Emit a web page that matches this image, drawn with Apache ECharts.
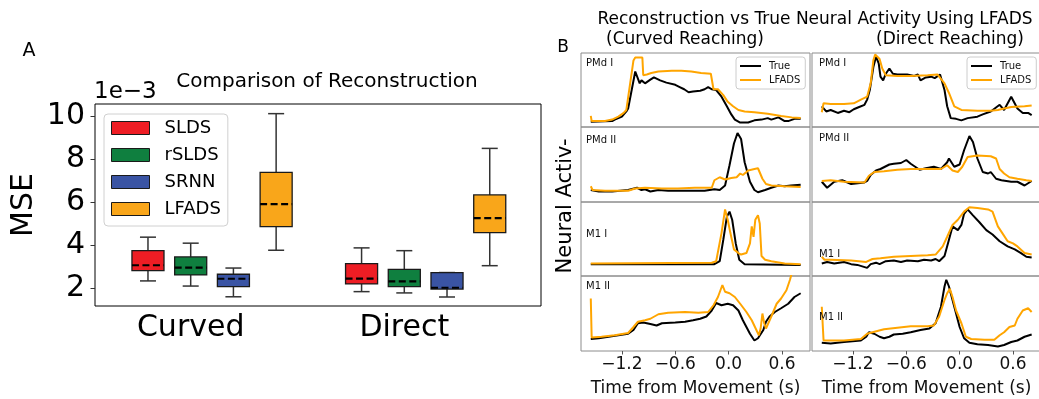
<!DOCTYPE html>
<html>
<head>
<meta charset="utf-8">
<script src="https://cdn.jsdelivr.net/npm/echarts@6/dist/echarts.min.js"></script>
<style>
  html, body { margin: 0; padding: 0; background: #ffffff; }
  #chart { width: 1039px; height: 399px; }
</style>
</head>
<body>
<div id="chart"></div>
<script>
// ---------- Panel A: reconstruction error (MSE, units of 1e-3) ----------
const conditions = ['Curved', 'Direct'];
const methods = ['SLDS', 'rSLDS', 'SRNN', 'LFADS'];
// each entry: [lower whisker, Q1, median, Q3, upper whisker], one per condition
const sldsBox  = [[2.33, 2.81, 3.06, 3.74, 4.37], [1.83, 2.19, 2.44, 3.14, 3.87]];
const rsldsBox = [[2.09, 2.61, 2.95, 3.45, 4.09], [1.77, 2.06, 2.31, 2.87, 3.74]];
const srnnBox  = [[1.59, 2.06, 2.43, 2.64, 2.93], [1.58, 1.95, 2.01, 2.72, 2.72]];
const lfadsBox = [[3.76, 4.86, 5.91, 7.39, 10.13], [3.04, 4.58, 5.26, 6.34, 8.51]];
const mseTicks = [2, 4, 6, 8, 10];

// ---------- Panel B: true vs LFADS-reconstructed activity, [time (s), normalised activity] ----------
const timeTicks = [-1.2, -0.6, 0, 0.6];
const regionNames = ['PMd I', 'PMd II', 'M1 I', 'M1 II'];

const pmd1CurvedTrue = [[-1.55,0.07],[-1.31,0.08],[-1.28,0.10],[-1.20,0.14],[-1.15,0.21],[-1.13,0.25],[-1.05,0.75],[-1.00,0.59],[-0.98,0.63],[-0.94,0.59],[-0.88,0.64],[-0.84,0.67],[-0.77,0.63],[-0.70,0.60],[-0.60,0.57],[-0.55,0.54],[-0.50,0.51],[-0.45,0.47],[-0.40,0.48],[-0.32,0.49],[-0.27,0.51],[-0.23,0.54],[-0.19,0.51],[-0.14,0.50],[-0.08,0.41],[-0.02,0.28],[0.03,0.17],[0.07,0.10],[0.13,0.06],[0.22,0.06],[0.29,0.09],[0.37,0.10],[0.44,0.12],[0.48,0.10],[0.56,0.13],[0.63,0.08],[0.67,0.08],[0.74,0.11],[0.81,0.11]];
const pmd1CurvedLfads = [[-1.55,0.15],[-1.54,0.08],[-1.39,0.08],[-1.31,0.10],[-1.24,0.14],[-1.18,0.19],[-1.15,0.23],[-1.07,0.90],[-1.05,0.94],[-0.97,0.94],[-0.96,0.70],[-0.92,0.71],[-0.87,0.73],[-0.79,0.75],[-0.64,0.76],[-0.53,0.76],[-0.42,0.75],[-0.31,0.73],[-0.20,0.72],[-0.17,0.51],[-0.12,0.51],[-0.06,0.43],[-0.01,0.34],[0.05,0.28],[0.11,0.23],[0.18,0.21],[0.29,0.20],[0.44,0.18],[0.59,0.15],[0.71,0.13],[0.81,0.12]];
const pmd1DirectTrue = [[-1.55,0.28],[-1.50,0.21],[-1.45,0.23],[-1.37,0.19],[-1.30,0.22],[-1.24,0.20],[-1.19,0.24],[-1.13,0.27],[-1.07,0.30],[-1.04,0.37],[-1.01,0.50],[-0.97,0.81],[-0.94,0.95],[-0.91,0.86],[-0.89,0.68],[-0.86,0.63],[-0.83,0.72],[-0.79,0.79],[-0.75,0.72],[-0.70,0.71],[-0.59,0.71],[-0.51,0.69],[-0.47,0.71],[-0.44,0.63],[-0.38,0.67],[-0.32,0.68],[-0.28,0.66],[-0.22,0.71],[-0.17,0.50],[-0.14,0.28],[-0.10,0.12],[-0.04,0.11],[0.02,0.09],[0.09,0.12],[0.20,0.14],[0.26,0.17],[0.35,0.21],[0.45,0.30],[0.50,0.23],[0.58,0.41],[0.65,0.25],[0.71,0.19],[0.77,0.19],[0.81,0.16]];
const pmd1DirectLfads = [[-1.55,0.20],[-1.53,0.32],[-1.45,0.31],[-1.30,0.31],[-1.19,0.32],[-1.11,0.37],[-1.04,0.41],[-1.00,0.59],[-0.97,0.90],[-0.95,0.98],[-0.90,0.92],[-0.87,0.79],[-0.83,0.70],[-0.70,0.69],[-0.55,0.69],[-0.36,0.70],[-0.25,0.71],[-0.17,0.59],[-0.12,0.46],[-0.06,0.28],[0.02,0.23],[0.20,0.22],[0.35,0.22],[0.43,0.23],[0.50,0.25],[0.58,0.27],[0.73,0.28],[0.81,0.29]];

const pmd2CurvedTrue = [[-1.55,0.16],[-1.46,0.14],[-1.31,0.14],[-1.13,0.16],[-1.03,0.19],[-0.98,0.16],[-0.94,0.17],[-0.88,0.14],[-0.79,0.16],[-0.68,0.15],[-0.45,0.15],[-0.27,0.15],[-0.16,0.17],[-0.10,0.16],[-0.04,0.22],[0.01,0.49],[0.06,0.78],[0.10,0.92],[0.14,0.84],[0.18,0.53],[0.24,0.27],[0.29,0.16],[0.33,0.13],[0.41,0.16],[0.48,0.19],[0.56,0.22],[0.63,0.21],[0.70,0.22],[0.81,0.23]];
const pmd2CurvedLfads = [[-1.55,0.21],[-1.53,0.16],[-1.39,0.15],[-1.13,0.15],[-1.05,0.18],[-0.94,0.19],[-0.75,0.18],[-0.57,0.18],[-0.38,0.19],[-0.19,0.19],[-0.16,0.29],[-0.10,0.33],[-0.04,0.30],[0.03,0.32],[0.09,0.33],[0.13,0.38],[0.16,0.36],[0.22,0.42],[0.29,0.44],[0.33,0.45],[0.38,0.31],[0.42,0.24],[0.48,0.22],[0.63,0.21],[0.81,0.20]];
const pmd2DirectTrue = [[-1.55,0.27],[-1.49,0.19],[-1.41,0.27],[-1.32,0.29],[-1.22,0.24],[-1.07,0.26],[-1.04,0.28],[-1.00,0.36],[-0.94,0.42],[-0.89,0.44],[-0.79,0.50],[-0.74,0.51],[-0.66,0.52],[-0.60,0.56],[-0.55,0.51],[-0.45,0.43],[-0.38,0.45],[-0.29,0.47],[-0.21,0.44],[-0.14,0.53],[-0.12,0.58],[-0.06,0.47],[0.00,0.50],[0.05,0.69],[0.11,0.88],[0.15,0.80],[0.20,0.58],[0.26,0.40],[0.32,0.38],[0.35,0.40],[0.41,0.31],[0.47,0.29],[0.58,0.27],[0.65,0.27],[0.73,0.22],[0.81,0.28]];
const pmd2DirectLfads = [[-1.55,0.28],[-1.45,0.29],[-1.30,0.27],[-1.07,0.26],[-1.02,0.35],[-0.96,0.40],[-0.85,0.41],[-0.70,0.43],[-0.55,0.44],[-0.36,0.44],[-0.21,0.44],[-0.14,0.49],[-0.08,0.42],[-0.02,0.40],[0.03,0.47],[0.09,0.60],[0.20,0.62],[0.35,0.61],[0.41,0.58],[0.45,0.44],[0.50,0.38],[0.56,0.33],[0.65,0.31],[0.75,0.29],[0.81,0.28]];

const m1aCurvedTrue = [[-1.55,0.16],[-0.16,0.16],[-0.10,0.20],[-0.06,0.49],[-0.02,0.80],[0.01,0.87],[0.04,0.76],[0.08,0.44],[0.12,0.22],[0.18,0.16],[0.81,0.15]];
const m1aCurvedLfads = [[-1.55,0.17],[-0.19,0.18],[-0.14,0.20],[-0.08,0.58],[-0.04,0.90],[-0.01,0.76],[0.02,0.58],[0.06,0.36],[0.11,0.31],[0.14,0.29],[0.20,0.31],[0.24,0.44],[0.26,0.67],[0.28,0.53],[0.30,0.76],[0.33,0.82],[0.35,0.71],[0.37,0.27],[0.41,0.22],[0.48,0.20],[0.63,0.17],[0.81,0.16]];
const m1aDirectTrue = [[-1.55,0.17],[-1.49,0.19],[-1.41,0.17],[-1.30,0.19],[-1.22,0.16],[-1.15,0.15],[-1.04,0.11],[-1.00,0.16],[-0.94,0.18],[-0.90,0.16],[-0.83,0.20],[-0.74,0.21],[-0.66,0.19],[-0.59,0.21],[-0.47,0.20],[-0.40,0.22],[-0.32,0.21],[-0.27,0.23],[-0.23,0.20],[-0.17,0.27],[-0.12,0.49],[-0.08,0.67],[-0.02,0.62],[0.02,0.69],[0.05,0.84],[0.09,0.90],[0.15,0.82],[0.22,0.73],[0.30,0.62],[0.37,0.56],[0.45,0.47],[0.54,0.40],[0.62,0.36],[0.69,0.31],[0.75,0.26],[0.81,0.25]];
const m1aDirectLfads = [[-1.55,0.26],[-1.52,0.22],[-1.45,0.22],[-1.22,0.21],[-1.05,0.19],[-1.03,0.18],[-0.98,0.23],[-0.89,0.24],[-0.74,0.26],[-0.55,0.27],[-0.36,0.28],[-0.27,0.29],[-0.19,0.40],[-0.14,0.53],[-0.08,0.69],[-0.02,0.76],[0.05,0.87],[0.11,0.93],[0.20,0.92],[0.32,0.90],[0.37,0.87],[0.43,0.67],[0.48,0.58],[0.54,0.47],[0.60,0.44],[0.65,0.40],[0.73,0.31],[0.81,0.29]];

const m1bCurvedTrue = [[-1.55,0.16],[-1.46,0.17],[-1.35,0.19],[-1.24,0.21],[-1.13,0.23],[-1.07,0.28],[-1.02,0.37],[-0.96,0.38],[-0.88,0.36],[-0.81,0.34],[-0.75,0.37],[-0.60,0.38],[-0.49,0.39],[-0.40,0.41],[-0.32,0.43],[-0.25,0.46],[-0.19,0.54],[-0.14,0.64],[-0.08,0.61],[-0.01,0.63],[0.05,0.61],[0.11,0.54],[0.16,0.41],[0.24,0.23],[0.29,0.14],[0.33,0.17],[0.39,0.28],[0.42,0.39],[0.46,0.46],[0.52,0.52],[0.59,0.57],[0.67,0.63],[0.74,0.72],[0.81,0.77]];
const m1bCurvedLfads = [[-1.55,0.70],[-1.54,0.18],[-1.43,0.19],[-1.28,0.21],[-1.13,0.24],[-1.07,0.32],[-1.02,0.39],[-0.94,0.41],[-0.88,0.43],[-0.79,0.49],[-0.68,0.51],[-0.49,0.52],[-0.34,0.51],[-0.23,0.52],[-0.17,0.61],[-0.12,0.72],[-0.07,0.88],[-0.04,0.79],[0.01,0.77],[0.07,0.72],[0.13,0.63],[0.20,0.52],[0.26,0.41],[0.34,0.21],[0.36,0.30],[0.38,0.50],[0.40,0.37],[0.42,0.30],[0.48,0.46],[0.54,0.63],[0.59,0.70],[0.65,0.81],[0.69,0.95],[0.72,1.08],[0.81,1.30]];
const m1bDirectTrue = [[-1.55,0.11],[-1.45,0.10],[-1.30,0.12],[-1.11,0.14],[-1.05,0.19],[-1.02,0.25],[-0.96,0.23],[-0.90,0.19],[-0.85,0.17],[-0.79,0.19],[-0.74,0.22],[-0.64,0.23],[-0.55,0.25],[-0.44,0.28],[-0.34,0.30],[-0.27,0.37],[-0.21,0.59],[-0.17,0.86],[-0.15,0.95],[-0.12,0.86],[-0.06,0.59],[0.00,0.32],[0.05,0.17],[0.11,0.11],[0.20,0.09],[0.32,0.08],[0.43,0.06],[0.50,0.08],[0.58,0.12],[0.65,0.14],[0.73,0.19],[0.81,0.22]];
const m1bDirectLfads = [[-1.55,0.59],[-1.53,0.14],[-1.30,0.14],[-1.11,0.16],[-1.04,0.23],[-0.98,0.25],[-0.85,0.29],[-0.70,0.31],[-0.55,0.33],[-0.36,0.33],[-0.29,0.34],[-0.23,0.46],[-0.17,0.68],[-0.14,0.77],[-0.11,0.83],[-0.08,0.72],[-0.04,0.54],[0.02,0.37],[0.07,0.19],[0.13,0.16],[0.28,0.15],[0.39,0.15],[0.45,0.21],[0.50,0.25],[0.56,0.32],[0.62,0.34],[0.65,0.43],[0.71,0.54],[0.77,0.57],[0.81,0.52]];

// ---------- styling / layout ----------
const FONT = 'DejaVu Sans';
const boxColors = ['#ee1d24', '#0f7f3f', '#3a54a4', '#f9a61a'];
const boxSets = [sldsBox, rsldsBox, srnnBox, lfadsBox];
const TRUE_COLOR = '#000000';
const LFADS_COLOR = '#ffa500';

const colLeft = [581, 812];
const rowTop = [53, 127, 202, 276];
const rowHeight = [74, 75, 74, 75];
const panelWidth = 229;

// traces, row by row, [curved, direct]
const traces = [
  [[pmd1CurvedTrue, pmd1CurvedLfads], [pmd1DirectTrue, pmd1DirectLfads]],
  [[pmd2CurvedTrue, pmd2CurvedLfads], [pmd2DirectTrue, pmd2DirectLfads]],
  [[m1aCurvedTrue, m1aCurvedLfads], [m1aDirectTrue, m1aDirectLfads]],
  [[m1bCurvedTrue, m1bCurvedLfads], [m1bDirectTrue, m1bDirectLfads]]
];
// where each region name sits inside its panel (pixels)
const regionLabelPos = [
  [[586, 63], [819, 63]],
  [[586, 140], [819, 138]],
  [[586, 234], [819, 254]],
  [[586, 286], [819, 317]]
];

const grids = [{ left: 95, top: 104, width: 446, height: 202, show: true, borderColor: '#000', borderWidth: 1, outerBoundsMode: 'none' }];
const xAxes = [{
  gridIndex: 0, type: 'value', min: 0.552, max: 2.64,
  axisLine: { show: false }, splitLine: { show: false },
  axisTick: { show: false },
  axisLabel: {
    customValues: [1, 2], formatter: v => conditions[Math.round(v) - 1],
    fontSize: 30, fontFamily: FONT, color: '#000', margin: 7
  }
}];
const yAxes = [{
  gridIndex: 0, type: 'value', min: 1.16, max: 10.58,
  name: 'MSE', nameLocation: 'middle', nameRotate: 90, nameGap: 56,
  nameTextStyle: { fontSize: 30, fontFamily: FONT, color: '#000' },
  axisLine: { show: false }, splitLine: { show: false },
  axisTick: { show: true, customValues: mseTicks, length: 4.5, lineStyle: { color: '#333', width: 1 } },
  axisLabel: { customValues: mseTicks, fontSize: 30, fontFamily: FONT, color: '#000', margin: 10 }
}];

const series = [];

methods.forEach((name, m) => {
  series.push({
    type: 'custom', name: name, xAxisIndex: 0, yAxisIndex: 0,
    itemStyle: { color: boxColors[m], borderColor: '#1a1a1a', borderWidth: 1 },
    encode: { x: 0, y: [1, 2, 3, 4, 5] },
    data: conditions.map((c, ci) => [ci + 1 + (m - 1) * 0.2].concat(boxSets[m][ci])),
    renderItem: function (params, api) {
      const x = api.value(0);
      const lo = api.value(1), q1 = api.value(2), md = api.value(3), q3 = api.value(4), hi = api.value(5);
      const half = api.size([0.15, 0])[0] / 2;
      const cap = half / 2;
      const cx = api.coord([x, md])[0];
      const y = v => api.coord([x, v])[1];
      const wStyle = { stroke: '#333', lineWidth: 1.5 };
      return {
        type: 'group',
        children: [
          { type: 'line', shape: { x1: cx, y1: y(q1), x2: cx, y2: y(lo) }, style: wStyle },
          { type: 'line', shape: { x1: cx, y1: y(q3), x2: cx, y2: y(hi) }, style: wStyle },
          { type: 'line', shape: { x1: cx - cap, y1: y(lo), x2: cx + cap, y2: y(lo) }, style: wStyle },
          { type: 'line', shape: { x1: cx - cap, y1: y(hi), x2: cx + cap, y2: y(hi) }, style: wStyle },
          { type: 'rect', shape: { x: cx - half, y: y(q3), width: 2 * half, height: y(q1) - y(q3) },
            style: { fill: api.visual('color'), stroke: '#1a1a1a', lineWidth: 1.3 } },
          { type: 'line', shape: { x1: cx - half, y1: y(md), x2: cx + half, y2: y(md) },
            style: { stroke: '#000', lineWidth: 2.2, lineDash: [7, 3.5] } }
        ]
      };
    }
  });
});

const graphics = [];

traces.forEach((row, r) => {
  row.forEach((pair, c) => {
    const g = grids.length;
    const bottomRow = r === traces.length - 1;
    grids.push({
      left: colLeft[c], top: rowTop[r], width: panelWidth, height: rowHeight[r],
      show: true, borderColor: '#8c8c8c', borderWidth: 1, outerBoundsMode: 'none'
    });
    xAxes.push({
      gridIndex: g, type: 'value', min: -1.66, max: 0.915,
      axisLine: { show: false }, splitLine: { show: false },
      axisTick: { show: bottomRow, customValues: timeTicks, length: 3.5, lineStyle: { color: '#555' } },
      axisLabel: {
        show: bottomRow, customValues: timeTicks, fontSize: 17, fontFamily: FONT, color: '#111', margin: 5,
        formatter: v => (v < 0 ? '\u2212' : '') + Math.abs(v).toFixed(1)
      },
      name: bottomRow ? 'Time from Movement (s)' : '',
      nameLocation: 'middle', nameGap: 29,
      nameTextStyle: { fontSize: 17, fontFamily: FONT, color: '#111' }
    });
    yAxes.push({
      gridIndex: g, type: 'value', min: 0, max: 1, show: false, splitLine: { show: false }
    });
    series.push({
      type: 'line', name: 'True', xAxisIndex: g, yAxisIndex: g, data: pair[0],
      showSymbol: false, symbol: 'none', clip: true, z: 2,
      lineStyle: { color: TRUE_COLOR, width: 2 }, itemStyle: { color: TRUE_COLOR }
    });
    series.push({
      type: 'line', name: 'LFADS', xAxisIndex: g, yAxisIndex: g, data: pair[1],
      showSymbol: false, symbol: 'none', clip: true, z: 3,
      lineStyle: { color: LFADS_COLOR, width: 2 }, itemStyle: { color: LFADS_COLOR }
    });
    const p = regionLabelPos[r][c];
    graphics.push({
      type: 'text', x: p[0], y: p[1], z: 10,
      style: { text: regionNames[r], fontSize: 10, fontFamily: FONT, fill: '#111', align: 'left', verticalAlign: 'middle' }
    });
  });
});

function textEl(text, x, y, size, align, rotation) {
  return {
    type: 'text', x: x, y: y, rotation: rotation || 0, z: 10,
    style: { text: text, fontSize: size, fontFamily: FONT, fill: '#000', align: align || 'center', verticalAlign: 'middle' }
  };
}
graphics.push(textEl('A', 29, 51, 19));
graphics.push(textEl('Comparison of Reconstruction', 327, 82, 20));
graphics.push(textEl('1e\u22123', 94, 92, 23, 'left'));
graphics.push(textEl('Reconstruction vs True Neural Activity Using LFADS', 815, 20, 17));
graphics.push(textEl('(Curved Reaching)', 685, 40, 17));
graphics.push(textEl('(Direct Reaching)', 950, 40, 17));
graphics.push(textEl('B', 563, 48, 17));
graphics.push(textEl('Neural Activ-', 566, 206, 21, 'center', Math.PI / 2));

const traceLegend = left => ({
  left: left, top: 57, orient: 'vertical', icon: 'rect', itemWidth: 21, itemHeight: 2, itemGap: 4,
  padding: [4, 5, 4, 4], selectedMode: false,
  backgroundColor: 'rgba(255,255,255,0.85)', borderColor: '#cccccc', borderWidth: 1, borderRadius: 3,
  textStyle: { fontSize: 10, fontFamily: FONT, color: '#111', lineHeight: 10, padding: [0, 0, 0, 3] },
  data: [
    { name: 'True', itemStyle: { color: TRUE_COLOR, borderWidth: 0 } },
    { name: 'LFADS', itemStyle: { color: LFADS_COLOR, borderWidth: 0 } }
  ]
});

const option = {
  animation: false,
  backgroundColor: '#ffffff',
  grid: grids,
  xAxis: xAxes,
  yAxis: yAxes,
  legend: [
    {
      left: 104, top: 114, orient: 'vertical', icon: 'rect', itemWidth: 38, itemHeight: 13, itemGap: 9,
      padding: [5, 7, 8, 7], selectedMode: false,
      backgroundColor: 'rgba(255,255,255,0.85)', borderColor: '#d0d0d0', borderWidth: 1, borderRadius: 4,
      textStyle: { fontSize: 18, fontFamily: FONT, color: '#000', lineHeight: 18, padding: [0, 0, 0, 10] },
      itemStyle: { borderColor: '#1a1a1a', borderWidth: 1 },
      data: methods.map((n, i) => ({ name: n, itemStyle: { color: boxColors[i], borderColor: '#1a1a1a', borderWidth: 1 } }))
    },
    traceLegend(736),
    traceLegend(967)
  ],
  graphic: graphics,
  series: series
};

const chart = echarts.init(document.getElementById('chart'), null, { renderer: 'canvas' });
chart.setOption(option);
</script>
</body>
</html>
